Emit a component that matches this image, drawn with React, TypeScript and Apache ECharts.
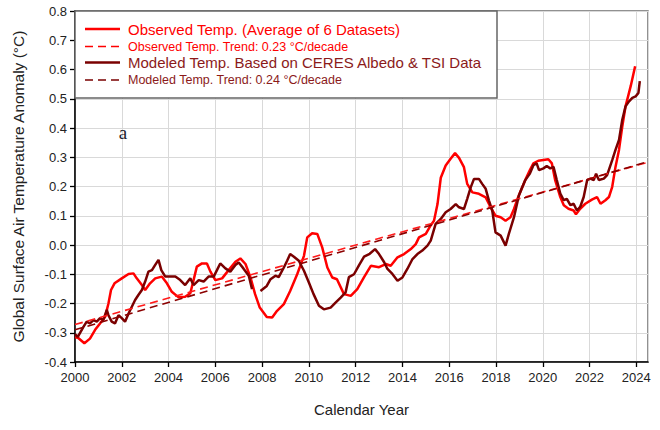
import React, { useEffect, useRef } from "react";
import * as echarts from "echarts";

const obsYears = [
  2000.0, 2000.14, 2000.4, 2000.64, 2000.86, 2001.07, 2001.29, 2001.43, 2001.54, 2001.69, 2002.0, 2002.29, 2002.5,
  2002.64, 2002.86, 2003.0, 2003.21, 2003.43, 2003.71, 2003.93, 2004.14, 2004.43, 2004.71, 2004.93, 2005.07, 2005.21,
  2005.43, 2005.64, 2005.79, 2006.0, 2006.29, 2006.57, 2006.86, 2007.07, 2007.29, 2007.5, 2007.7,
  2007.9, 2008.2, 2008.43, 2008.64, 2008.93, 2009.2, 2009.5, 2009.79, 2009.93, 2010.14, 2010.36, 2010.57, 2010.79,
  2011.0, 2011.2, 2011.5, 2011.79, 2012.07, 2012.36, 2012.65, 2013.0, 2013.29, 2013.5, 2013.79, 2014.07, 2014.36,
  2014.57, 2014.71, 2015.0, 2015.2, 2015.35, 2015.5, 2015.64, 2015.85, 2016.06, 2016.25, 2016.42, 2016.63, 2016.77,
  2016.99, 2017.27, 2017.56, 2017.77, 2017.98, 2018.2, 2018.41, 2018.62, 2018.77, 2018.95, 2019.24, 2019.45, 2019.6,
  2019.81, 2020.24, 2020.39, 2020.53, 2020.75, 2020.9, 2021.1, 2021.32, 2021.42, 2021.6, 2021.82, 2022.1, 2022.32,
  2022.47, 2022.68, 2022.83, 2022.97, 2023.11, 2023.26, 2023.4, 2023.54, 2023.76, 2023.95,
];
const obsValues = [
  -0.315, -0.318, -0.336, -0.32, -0.29, -0.268, -0.245, -0.2, -0.154, -0.131, -0.114, -0.099, -0.097,
  -0.114, -0.137, -0.154, -0.131, -0.114, -0.108, -0.131, -0.16, -0.179, -0.177, -0.165, -0.12, -0.074,
  -0.063, -0.063, -0.091, -0.12, -0.114, -0.086, -0.057, -0.046, -0.065, -0.11, -0.168,
  -0.214, -0.246, -0.248, -0.225, -0.202, -0.157, -0.1, -0.037, 0.026, 0.04, 0.038, -0.008, -0.077,
  -0.111, -0.117, -0.168, -0.174, -0.151, -0.11, -0.071, -0.076, -0.065, -0.071, -0.042, -0.031, -0.014,
  0.003, 0.026, 0.038, 0.066, 0.083, 0.14, 0.23, 0.272, 0.295, 0.314, 0.298, 0.266, 0.209,
  0.18, 0.175, 0.163, 0.129, 0.1, 0.095, 0.083, 0.095, 0.123, 0.164, 0.22, 0.256, 0.279,
  0.288, 0.293, 0.279, 0.222, 0.164, 0.136, 0.124, 0.118, 0.105, 0.124, 0.141, 0.155, 0.164,
  0.141, 0.153, 0.164, 0.199, 0.267, 0.325, 0.405, 0.474, 0.543, 0.611,
];

const modYears = [
  2000.0, 2000.12, 2000.36, 2000.5, 2000.64, 2000.79, 2000.93, 2001.07, 2001.21, 2001.36, 2001.43, 2001.57, 2001.71,
  2001.86, 2002.0, 2002.14, 2002.29, 2002.43, 2002.57, 2002.71, 2002.86, 2003.0, 2003.14, 2003.29, 2003.43, 2003.57,
  2003.69, 2003.86, 2004.07, 2004.29, 2004.5, 2004.71, 2004.93, 2005.07, 2005.29, 2005.5, 2005.71, 2005.93, 2006.07,
  2006.21, 2006.43, 2006.64, 2006.86, 2007.0, 2007.2, 2007.43, 2007.57, 2007.75, 2007.93, 2008.2, 2008.36, 2008.57,
  2008.71, 2008.93, 2009.07, 2009.2, 2009.36, 2009.57, 2009.79, 2010.0, 2010.2, 2010.43, 2010.64, 2010.93, 2011.14,
  2011.36, 2011.57, 2011.71, 2011.93, 2012.14, 2012.36, 2012.6, 2012.83, 2013.0, 2013.22, 2013.36, 2013.57, 2013.79,
  2014.0, 2014.21, 2014.43, 2014.64, 2014.85, 2015.07, 2015.21, 2015.42, 2015.64, 2015.85, 2016.06, 2016.28, 2016.42,
  2016.63, 2016.77, 2016.92, 2017.06, 2017.27, 2017.41, 2017.56, 2017.7, 2017.84, 2017.98, 2018.2, 2018.41, 2018.55,
  2018.77, 2018.98, 2019.1, 2019.24, 2019.45, 2019.6, 2019.74, 2019.84, 2020.03, 2020.17, 2020.32, 2020.46, 2020.6,
  2020.75, 2020.9, 2021.03, 2021.18, 2021.32, 2021.46, 2021.6, 2021.75, 2021.9, 2022.04, 2022.18, 2022.28, 2022.4,
  2022.61, 2022.75, 2022.85, 2022.97, 2023.11, 2023.26, 2023.4, 2023.54, 2023.69, 2023.83, 2023.97, 2024.09, 2024.15,
];
const modValues: (number | null)[] = [
  -0.305, -0.314, -0.28, -0.262, -0.268, -0.257, -0.262, -0.25, -0.257, -0.222, -0.24, -0.262, -0.268,
  -0.24, -0.25, -0.262, -0.234, -0.211, -0.188, -0.171, -0.154, -0.125, -0.091, -0.086, -0.068, -0.051,
  -0.086, -0.108, -0.108, -0.108, -0.12, -0.137, -0.114, -0.137, -0.12, -0.125, -0.108, -0.108, -0.086,
  -0.063, -0.08, -0.091, -0.068, -0.06, -0.08, -0.105, -0.151, null, -0.157, -0.14, -0.117, -0.105,
  -0.11, -0.077, -0.054, -0.031, -0.04, -0.054, -0.088, -0.128, -0.168, -0.208, -0.22, -0.214, -0.197,
  -0.18, -0.162, -0.11, -0.1, -0.07, -0.04, -0.03, -0.014, -0.031, -0.059, -0.082, -0.099, -0.122,
  -0.111, -0.082, -0.048, -0.031, -0.019, -0.002, 0.015, 0.072, 0.089, 0.112, 0.123, 0.14, 0.129,
  0.123, 0.158, 0.197, 0.226, 0.226, 0.209, 0.192, 0.152, 0.118, 0.043, 0.032, -0.002, 0.038,
  0.095, 0.169, 0.193, 0.22, 0.244, 0.273, 0.279, 0.256, 0.262, 0.27, 0.262, 0.267, 0.222,
  0.176, 0.153, 0.158, 0.136, 0.141, 0.118, 0.13, 0.164, 0.222, 0.227, 0.222, 0.244, 0.222,
  0.227, 0.239, 0.262, 0.29, 0.325, 0.359, 0.428, 0.474, 0.491, 0.503, 0.508, 0.52, 0.56,
];

const trendYears = [2000, 2024.5];
const obsTrend = [-0.272, 0.283];
const modTrend = [-0.29, 0.285];

const seriesNames = [
  "Observed Temp. (Average of 6 Datasets)",
  "Observed Temp. Trend: 0.23 °C/decade",
  "Modeled Temp. Based on CERES Albedo & TSI Data",
  "Modeled Temp. Trend: 0.24 °C/decade",
];

const OBS_COLOR = "#ff0000";
const MOD_COLOR = "#7a0000";
const MOD_TEXT = "#8b1a1a";
const FONT = '"Liberation Sans", Arial, sans-serif';

export default function App() {
  const ref = useRef<HTMLDivElement>(null);
  useEffect(() => {
    document.body.style.margin = "0";
    const chart = echarts.init(ref.current!, undefined, { renderer: "svg" });
    const pairs = (xs: number[], ys: (number | null)[]) =>
      xs.map((x, i) => [x, ys[i] === null ? "-" : ys[i]]);

    const L = 75, T = 11, R = 648, B = 362;
    const legendRows = [
      { y: 29, color: OBS_COLOR, text: OBS_COLOR, dash: false, size: 15 },
      { y: 46.5, color: OBS_COLOR, text: OBS_COLOR, dash: true, size: 12.5 },
      { y: 62.5, color: MOD_COLOR, text: MOD_TEXT, dash: false, size: 15 },
      { y: 80, color: MOD_COLOR, text: MOD_TEXT, dash: true, size: 12.5 },
    ];
    const legendGraphics: any[] = [
      {
        type: "rect",
        shape: { x: L, y: T, width: 497 - L, height: 98 - T },
        style: { fill: "#fff", stroke: "#666", lineWidth: 1.5 },
        z: 100,
      },
    ];
    legendRows.forEach((r, i) => {
      legendGraphics.push({
        type: "line",
        shape: { x1: 85, y1: r.y, x2: 120, y2: r.y },
        style: {
          stroke: r.color,
          lineWidth: r.dash ? 1.5 : 2.5,
          lineDash: r.dash ? [8, 5] : null,
        },
        z: 101,
      });
      legendGraphics.push({
        type: "text",
        x: 128,
        y: r.y,
        style: {
          text: seriesNames[i],
          fill: r.text,
          font: `${r.size}px ${FONT}`,
          verticalAlign: "middle",
          align: "left",
        },
        z: 101,
      });
    });
    legendGraphics.push({
      type: "text",
      x: 123,
      y: 132,
      style: {
        text: "a",
        fill: "#1c1c2e",
        font: '19px "Liberation Serif", "Times New Roman", serif',
        verticalAlign: "middle",
        align: "center",
      },
      z: 101,
    });

    chart.setOption({
      animation: false,
      backgroundColor: "#fff",
      grid: {
        left: L,
        top: T,
        right: 660 - R,
        bottom: 430 - B,
        containLabel: false,
        outerBoundsMode: "none",
        show: true,
        borderColor: "#6e6e6e",
        borderWidth: 1.5,
        backgroundColor: "transparent",
      },
      xAxis: {
        type: "value",
        min: 2000,
        max: 2024.5,
        interval: 2,
        name: "Calendar Year",
        nameLocation: "middle",
        nameGap: 40,
        nameTextStyle: { fontFamily: FONT, fontSize: 15, color: "#222" },
        axisLine: { show: true, onZero: false, lineStyle: { color: "#000", width: 1.5 } },
        axisTick: { show: true, inside: false, length: 5, lineStyle: { color: "#000", width: 1.3 } },
        axisLabel: {
          margin: 9,
          fontFamily: FONT,
          fontSize: 13,
          color: "#222",
          showMaxLabel: false,
          formatter: (v: number) => (Number.isInteger(v) && v % 2 === 0 ? String(v) : ""),
        },
        splitLine: { show: true, lineStyle: { color: "#d9d9d9", width: 1 } },
      },
      yAxis: {
        type: "value",
        min: -0.4,
        max: 0.8,
        interval: 0.1,
        name: "Global Surface Air Temperature Anomaly (°C)",
        nameLocation: "middle",
        nameGap: 49,
        nameTextStyle: { fontFamily: FONT, fontSize: 15.5, color: "#222" },
        axisLine: { show: true, onZero: false, lineStyle: { color: "#000", width: 1.5 } },
        axisTick: { show: true, inside: false, length: 5, lineStyle: { color: "#000", width: 1.3 } },
        axisLabel: {
          margin: 8,
          fontFamily: FONT,
          fontSize: 13,
          color: "#222",
          formatter: (v: number) => (Math.abs(v) < 1e-9 ? "0.0" : v.toFixed(1)),
        },
        splitLine: { show: true, lineStyle: { color: "#d9d9d9", width: 1 } },
      },
      graphic: legendGraphics,
      series: [
        {
          name: seriesNames[0],
          type: "line",
          data: pairs(obsYears, obsValues),
          showSymbol: false,
          symbol: "none",
          lineStyle: { color: OBS_COLOR, width: 2.5 },
          itemStyle: { color: OBS_COLOR },
          z: 2,
        },
        {
          name: seriesNames[1],
          type: "line",
          data: pairs(trendYears, obsTrend),
          showSymbol: false,
          symbol: "none",
          lineStyle: { color: "#ff1a1a", width: 1.6, type: [8, 5] },
          itemStyle: { color: OBS_COLOR },
          z: 4,
        },
        {
          name: seriesNames[2],
          type: "line",
          data: pairs(modYears, modValues),
          showSymbol: false,
          symbol: "none",
          connectNulls: false,
          lineStyle: { color: MOD_COLOR, width: 2.5 },
          itemStyle: { color: MOD_COLOR },
          z: 3,
        },
        {
          name: seriesNames[3],
          type: "line",
          data: pairs(trendYears, modTrend),
          showSymbol: false,
          symbol: "none",
          lineStyle: { color: "#8b0000", width: 1.6, type: [8, 5] },
          itemStyle: { color: MOD_COLOR },
          z: 4,
        },
      ],
    });
    return () => chart.dispose();
  }, []);
  return (
    <div
      ref={ref}
      style={{ position: "absolute", left: 0, top: 0, width: 660, height: 430, background: "#fff" }}
    />
  );
}
